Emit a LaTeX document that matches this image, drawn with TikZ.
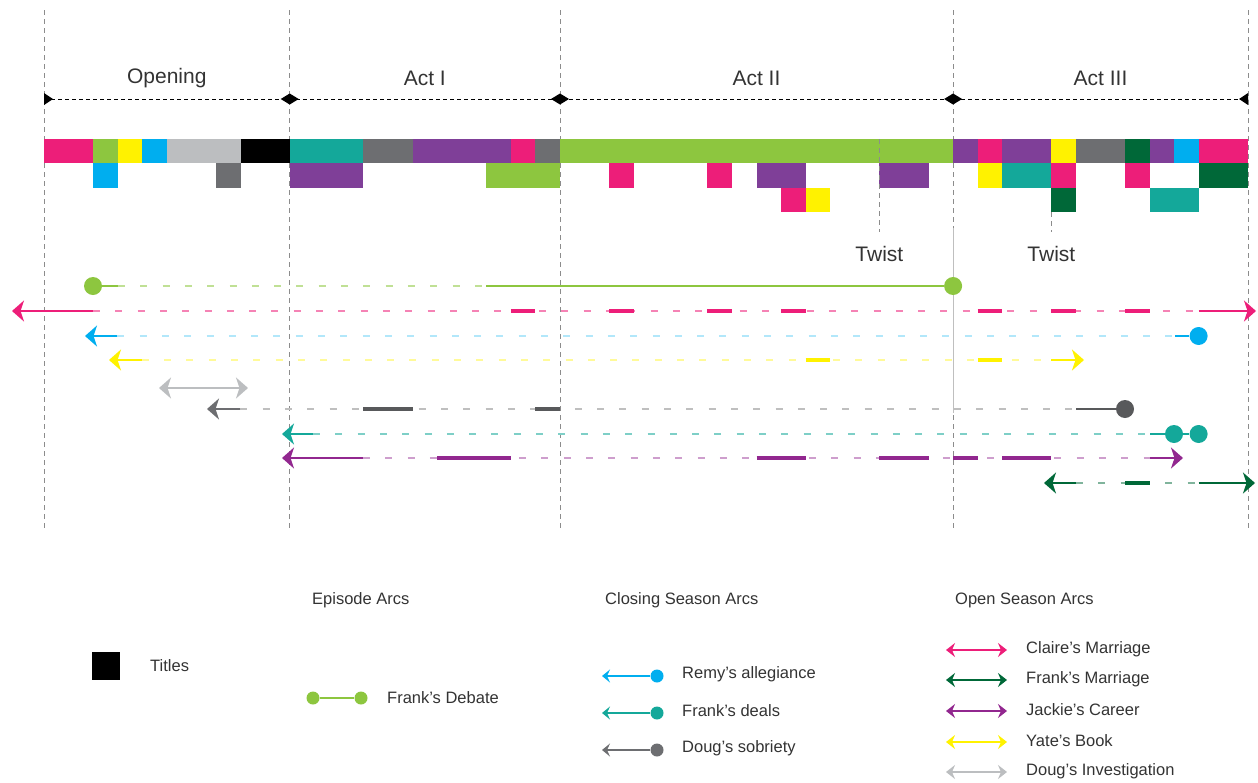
\documentclass[tikz,border=0pt]{standalone}
\usepackage{fontspec}
\setmainfont{Liberation Sans}
\usetikzlibrary{arrows.meta}
\definecolor{cpink}{HTML}{ED1E79}
\definecolor{cgreen}{HTML}{8DC63F}
\definecolor{cyellow}{HTML}{FFF200}
\definecolor{cblue}{HTML}{00AEEF}
\definecolor{clgray}{HTML}{BCBEC0}
\definecolor{cteal}{HTML}{14A89A}
\definecolor{cdgray}{HTML}{6D6E71}
\definecolor{cpurple}{HTML}{7F3F98}
\definecolor{cdgreen}{HTML}{006838}
\definecolor{apurple}{HTML}{92278F}
\definecolor{agray}{HTML}{58595B}
\newcommand\cellrun[4]{\fill[#4] ({44+#1*24.571},{139+#3*24.45}) rectangle ({44+(#2+1)*24.571},{139+(#3+1)*24.45});}
\newcommand\arcseg[4]{\draw[segline,#4] ({44+#1*24.571},#3) -- ({44+(#2+1)*24.571},#3);}
\begin{document}
\begin{tikzpicture}[x=1pt,y=-1pt,
  actline/.style={black!45, line width=0.8pt, dash pattern=on 5pt off 4pt},
  lbl/.style={font=\fontsize{21}{25}\selectfont, text=black!80, inner sep=0pt},
  leg/.style={font=\fontsize{16.5}{20}\selectfont, anchor=west, text=black!80, inner sep=0pt},
  dashline/.style={line width=2.4pt, dash pattern=on 7pt off 15.3pt},
  segline/.style={line width=3.4pt},
  shaft/.style={line width=2pt},
  >={Stealth[length=12pt,width=21pt,inset=3.5pt]},
  smalltip/.style={-{Stealth[length=8pt,width=13pt,inset=3pt]}},
  dbltip/.style={{Stealth[length=9pt,width=14pt,inset=3pt]}-{Stealth[length=9pt,width=14pt,inset=3pt]}},
  dot/.style={circle, inner sep=0pt, minimum size=18pt},
  ldot/.style={circle, inner sep=0pt, minimum size=13pt}
]
\useasboundingbox (0,0) rectangle (1258,782);

% act separators
\foreach \x in {44,289.7,560,953.1,1248} \draw[actline] (\x,10) -- (\x,530);

% act axis
\draw[black, line width=0.9pt, dash pattern=on 4pt off 3pt] (44,99) -- (1248,99);
\foreach \x in {289.7,560,953.1} \fill[black] (\x-9,99) -- (\x,93.5) -- (\x+9,99) -- (\x,104.5) -- cycle;
\fill[black] (44,93) -- (53,99) -- (44,105) -- cycle;
\fill[black] (1248,93) -- (1239,99) -- (1248,105) -- cycle;
\node[lbl] (opening) at (166.8,78) {Opening};
\node[lbl] (act1) at (424.8,78) {Act I};
\node[lbl] (act2) at (756.5,78) {Act II};
\node[lbl] (act3) at (1100.5,78) {Act III};

% episode grid, row 0
\cellrun{0}{1}{0}{cpink}
\cellrun{2}{2}{0}{cgreen}
\cellrun{3}{3}{0}{cyellow}
\cellrun{4}{4}{0}{cblue}
\cellrun{5}{7}{0}{clgray}
\cellrun{8}{9}{0}{black}
\cellrun{10}{12}{0}{cteal}
\cellrun{13}{14}{0}{cdgray}
\cellrun{15}{18}{0}{cpurple}
\cellrun{19}{19}{0}{cpink}
\cellrun{20}{20}{0}{cdgray}
\cellrun{21}{36}{0}{cgreen}
\cellrun{37}{37}{0}{cpurple}
\cellrun{38}{38}{0}{cpink}
\cellrun{39}{40}{0}{cpurple}
\cellrun{41}{41}{0}{cyellow}
\cellrun{42}{43}{0}{cdgray}
\cellrun{44}{44}{0}{cdgreen}
\cellrun{45}{45}{0}{cpurple}
\cellrun{46}{46}{0}{cblue}
\cellrun{47}{48}{0}{cpink}
% row 1
\cellrun{2}{2}{1}{cblue}
\cellrun{7}{7}{1}{cdgray}
\cellrun{10}{12}{1}{cpurple}
\cellrun{18}{20}{1}{cgreen}
\cellrun{23}{23}{1}{cpink}
\cellrun{27}{27}{1}{cpink}
\cellrun{29}{30}{1}{cpurple}
\cellrun{34}{35}{1}{cpurple}
\cellrun{38}{38}{1}{cyellow}
\cellrun{39}{40}{1}{cteal}
\cellrun{41}{41}{1}{cpink}
\cellrun{44}{44}{1}{cpink}
\cellrun{47}{48}{1}{cdgreen}
% row 2
\cellrun{30}{30}{2}{cpink}
\cellrun{31}{31}{2}{cyellow}
\cellrun{41}{41}{2}{cdgreen}
\cellrun{45}{46}{2}{cteal}

% twists
\draw[actline] (879.4,139) -- (879.4,232);
\draw[actline] (1051.4,212) -- (1051.4,232);
\draw[black!25, line width=1pt] (953.1,228) -- (953.1,413);
\node[lbl] (twist1) at (879.4,254) {Twist};
\node[lbl] (twist2) at (1051.4,254) {Twist};

% Frank's Debate (green)
\node[dot, fill=cgreen] (gA) at (93,286) {};
\node[dot, fill=cgreen] (gB) at (953.1,286) {};
\coordinate (g1) at (118,286);
\coordinate (g2) at (486.3,286);
\draw[shaft, cgreen] (gA.center) -- (g1);
\draw[dashline, cgreen!55] (g1) -- (g2);
\draw[line width=2.4pt, cgreen] (g2) -- (gB);

% Claire's Marriage (pink)
\coordinate (pL) at (12,311); \coordinate (p1) at (93,311);
\coordinate (p2) at (1198.6,311); \coordinate (pR) at (1256,311);
\draw[dashline, cpink!55] (p1) -- (p2);
\arcseg{19}{19}{311}{cpink}
\arcseg{23}{23}{311}{cpink}
\arcseg{27}{27}{311}{cpink}
\arcseg{30}{30}{311}{cpink}
\arcseg{38}{38}{311}{cpink}
\arcseg{41}{41}{311}{cpink}
\arcseg{44}{44}{311}{cpink}
\draw[shaft, cpink, ->] (p1) -- (pL);
\draw[shaft, cpink, ->] (p2) -- (pR);

% Remy's allegiance (blue)
\coordinate (bL) at (85,336); \coordinate (b1) at (117.3,336);
\coordinate (b2) at (1175,336);
\node[dot, fill=cblue] (bR) at (1198.6,336) {};
\draw[dashline, cblue!30] (b1) -- (b2);
\draw[shaft, cblue, ->] (b1) -- (bL);
\draw[shaft, cblue] (b2) -- (bR);

% Yate's Book (yellow)
\coordinate (yL) at (109,360); \coordinate (y1) at (141.8,360);
\coordinate (y2) at (1051.4,360); \coordinate (yR) at (1084,360);
\draw[dashline, cyellow!40] (y1) -- (y2);
\arcseg{31}{31}{360}{cyellow}
\arcseg{38}{38}{360}{cyellow}
\draw[shaft, cyellow, ->] (y1) -- (yL);
\draw[shaft, cyellow, ->] (y2) -- (yR);

% Doug's Investigation (light gray)
\coordinate (lgL) at (159,388); \coordinate (lgR) at (248,388);
\draw[shaft, clgray, <->] (lgL) -- (lgR);

% Doug's sobriety (dark gray)
\coordinate (dL) at (207,409); \coordinate (d1) at (240.3,409);
\coordinate (d2) at (1076,409);
\node[dot, fill=agray] (dR) at (1125,409) {};
\draw[dashline, black!25] (d1) -- (d2);
\arcseg{13}{14}{409}{agray}
\arcseg{20}{20}{409}{agray}
\draw[shaft, cdgray, ->] (d1) -- (dL);
\draw[shaft, agray] (d2) -- (dR);

% Frank's deals (teal)
\coordinate (tL) at (282,434); \coordinate (t1) at (313,434);
\coordinate (t2) at (1150,434);
\node[dot, fill=cteal] (tR1) at (1174,434) {};
\node[dot, fill=cteal] (tR2) at (1198.6,434) {};
\draw[dashline, cteal!55] (t1) -- (t2);
\draw[shaft, cteal, ->] (t1) -- (tL);
\draw[shaft, cteal] (t2) -- (tR1) -- (tR2);

% Jackie's Career (purple)
\coordinate (uL) at (282,458); \coordinate (u1) at (363,458);
\coordinate (u2) at (1150,458); \coordinate (uR) at (1183,458);
\draw[dashline, apurple!45] (u1) -- (u2);
\arcseg{16}{18}{458}{apurple}
\arcseg{29}{30}{458}{apurple}
\arcseg{34}{35}{458}{apurple}
\arcseg{37}{37}{458}{apurple}
\arcseg{39}{40}{458}{apurple}
\draw[shaft, apurple, ->] (u1) -- (uL);
\draw[shaft, apurple, ->] (u2) -- (uR);

% Frank's Marriage (dark green)
\coordinate (fL) at (1044,483); \coordinate (f1) at (1076,483);
\coordinate (f2) at (1198.6,483); \coordinate (fR) at (1255,483);
\draw[dashline, cdgreen!50] (f1) -- (f2);
\arcseg{44}{44}{483}{cdgreen}
\draw[shaft, cdgreen, ->] (f1) -- (fL);
\draw[shaft, cdgreen, ->] (f2) -- (fR);

% legend: titles
\node[fill=black, minimum size=28pt, inner sep=0pt] (tbox) at (106,665.5) {};
\node[leg] (tlab) at (150,665.5) {Titles};

% legend: episode arcs
\node[leg] (h1) at (312,600) {Episode Arcs};
\node[ldot, fill=cgreen] (e1) at (313,698) {};
\node[ldot, fill=cgreen] (e2) at (361,698) {};
\draw[cgreen, line width=1.5pt] (e1) -- (e2);
\node[leg] (elab) at (387,698) {Frank’s Debate};

% legend: closing season arcs
\node[leg] (h2) at (605,600) {Closing Season Arcs};
\node[ldot, fill=cblue] (c1) at (657,676) {};
\coordinate (c1t) at (602,676);
\draw[cblue, line width=1.3pt, smalltip] (c1) -- (c1t);
\node[leg] (c1l) at (682,674) {Remy’s allegiance};
\node[ldot, fill=cteal] (c2) at (657,713) {};
\coordinate (c2t) at (602,713);
\draw[cteal, line width=1.3pt, smalltip] (c2) -- (c2t);
\node[leg] (c2l) at (682,711) {Frank’s deals};
\node[ldot, fill=cdgray] (c3) at (657,750) {};
\coordinate (c3t) at (602,750);
\draw[cdgray, line width=1.3pt, smalltip] (c3) -- (c3t);
\node[leg] (c3l) at (682,748) {Doug’s sobriety};

% legend: open season arcs
\node[leg] (h3) at (955,600) {Open Season Arcs};
\foreach \yy/\cc/\tt/\nn in {650/cpink/Claire’s Marriage/o1, 680/cdgreen/Frank’s Marriage/o2, 711/apurple/Jackie’s Career/o3, 742/cyellow/Yate’s Book/o4, 772/clgray/Doug’s Investigation/o5}{
  \coordinate (\nn a) at (946,\yy);
  \coordinate (\nn b) at (1007,\yy);
  \draw[\cc, line width=1.5pt, dbltip] (\nn a) -- (\nn b);
  \node[leg] (\nn l) at (1026,\yy-1) {\tt};
}
\end{tikzpicture}
\end{document}
